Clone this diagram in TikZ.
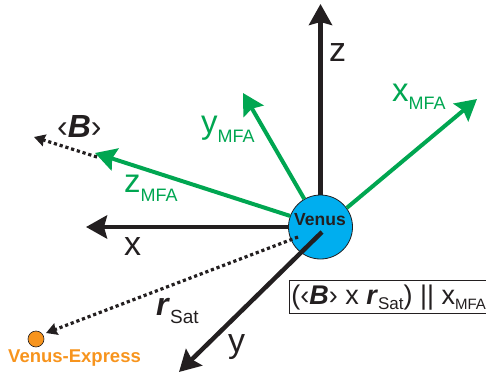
\documentclass[tikz,border=0pt]{standalone}
\usepackage{fontspec}
\setmainfont{Liberation Sans}
\usetikzlibrary{arrows.meta}
\definecolor{mfagreen}{RGB}{0,166,81}
\definecolor{venusblue}{RGB}{0,174,239}
\definecolor{vexorange}{RGB}{247,148,29}
\definecolor{axisblack}{RGB}{35,31,32}
\newcommand\lblsub[3]{\raisebox{-#2}{\fontsize{#3}{#3}\selectfont #1}}
\begin{document}
\begin{tikzpicture}[x=1pt,y=-1pt,
  axisarrow/.style={draw=axisblack,line width=4.5pt,-{Stealth[length=21pt,width=23pt,inset=3pt]}},
  mfaarrow/.style={draw=mfagreen,line width=4pt,-{Stealth[length=21pt,width=23pt,inset=3pt]}},
  dotarrow/.style={draw=axisblack,line width=3.2pt,dash pattern=on 3.2pt off 2.8pt,-{Stealth[length=11pt,width=12pt,inset=1pt]}},
  biglbl/.style={font=\fontsize{34}{34}\selectfont,inner sep=0pt,text=axisblack,anchor=base west},
  mfalbl/.style={font=\fontsize{33}{33}\selectfont,inner sep=0pt,text=mfagreen,anchor=base west},
  vlbl/.style={font=\fontsize{32}{32}\selectfont,inner sep=0pt,text=axisblack,anchor=base west}]
\useasboundingbox (0,0) rectangle (486,377);
% planet
\node[circle,fill=venusblue,draw=axisblack,line width=0.8pt,minimum size=64pt,inner sep=0pt] (venus) at (320.5,227) {};
\node[font=\fontsize{17.5}{17.5}\selectfont\bfseries,text=axisblack,inner sep=0pt] (venustxt) at (320,220) {Venus};
% tips
\coordinate (ztip) at (320.5,4);
\coordinate (xtip) at (86,227);
\coordinate (ystart) at (322,232);
\coordinate (ytip) at (179,372);
\coordinate (xmtip) at (477,99);
\coordinate (ymtip) at (243,93);
\coordinate (zmtip) at (95,153);
\coordinate (bstart) at (97,157);
\coordinate (btip) at (34,137);
\coordinate (rstart) at (298,237);
% spacecraft
\node[circle,fill=vexorange,draw=axisblack,line width=0.6pt,minimum size=16pt,inner sep=0pt] (vex) at (36,339) {};
\coordinate (rtip) at (46,333);
% MFA axes
\draw[mfaarrow] (venus.36) -- (xmtip);
\draw[mfaarrow] (venus.120) -- (ymtip);
\draw[mfaarrow] (venus.160) -- (zmtip);
% black axes
\draw[axisarrow] (venus.north) -- (ztip);
\draw[axisarrow] (venus.west) -- (xtip);
\draw[axisarrow] (ystart) -- (ytip);
% dotted
\draw[dotarrow] (bstart) -- (btip);
\draw[dotarrow] (rstart) -- (rtip);
% labels
\node[biglbl] (zl) at (329,62) {z};
\node[biglbl] (xl) at (124,255) {x};
\node[biglbl] (yl) at (228,352) {y};
\node[mfalbl] (xml) at (392,101) {x\lblsub{MFA}{9pt}{18}};
\node[mfalbl] (yml) at (201,133) {y\lblsub{MFA}{9pt}{18}};
\node[mfalbl] (zml) at (124,192) {z\lblsub{MFA}{9pt}{18}};
\node[vlbl] (bl) at (57,137) {‹\textbf{\textit{B}}›};
\node[vlbl] (rl) at (156,315) {\textbf{\textit{r}}\lblsub{Sat}{8pt}{19}};
\node[font=\fontsize{18.5}{18.5}\selectfont\bfseries,text=vexorange,inner sep=0pt,anchor=base west] (vexl) at (8,362) {Venus-Express};
\node[draw=axisblack,line width=0.8pt,anchor=base west,inner xsep=2pt,inner ysep=4pt,font=\fontsize{27}{27}\selectfont,text=axisblack] (formula) at (289,304) {(‹\textbf{\textit{B}}› x \textbf{\textit{r}}\lblsub{Sat}{5pt}{17}) || x\lblsub{MFA}{5pt}{15}};
\end{tikzpicture}
\end{document}
